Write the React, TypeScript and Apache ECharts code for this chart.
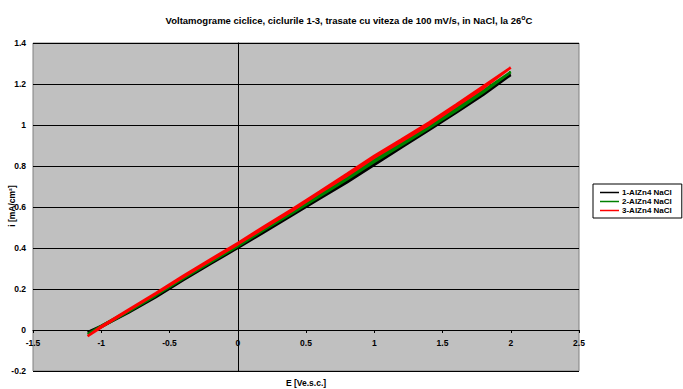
import React, { useEffect, useRef } from "react";
import * as echarts from "echarts";

const seriesNames = ["1-AlZn4 NaCl", "2-AlZn4 NaCl", "3-AlZn4 NaCl"];
const seriesColors = ["#000000", "#008000", "#FF0000"];

// potential values (V vs s.c.e.) for the forward scan
const eForward = [-1.1, -1.0, -0.8, -0.6, -0.4, -0.2, 0, 0.2, 0.4, 0.6, 0.8, 1.0, 1.2, 1.4, 1.6, 1.8, 2.0];
// current density (mA/cm2), forward scan
const iForward1 = [-0.01, 0.02, 0.09, 0.165, 0.25, 0.33, 0.41, 0.49, 0.57, 0.65, 0.73, 0.815, 0.9, 0.985, 1.07, 1.157, 1.244];
const iForward2 = [-0.02, 0.02, 0.095, 0.172, 0.258, 0.338, 0.415, 0.497, 0.578, 0.66, 0.745, 0.83, 0.912, 0.995, 1.08, 1.168, 1.258];
const iForward3 = [-0.03, 0.018, 0.1, 0.18, 0.264, 0.345, 0.424, 0.508, 0.59, 0.675, 0.762, 0.85, 0.93, 1.012, 1.1, 1.19, 1.28];
// reverse scan (2.0 -> -1.1)
const eReverse = [2.0, 1.8, 1.6, 1.4, 1.2, 1.0, 0.8, 0.6, 0.4, 0.2, 0, -0.2, -0.4, -0.6, -0.8, -1.0, -1.1];
const iReverse1 = [1.244, 1.148, 1.06, 0.975, 0.89, 0.805, 0.72, 0.64, 0.56, 0.48, 0.4, 0.322, 0.243, 0.16, 0.085, 0.015, -0.01];
const iReverse2 = [1.258, 1.16, 1.07, 0.985, 0.902, 0.82, 0.735, 0.652, 0.57, 0.49, 0.408, 0.33, 0.25, 0.168, 0.09, 0.014, -0.02];
const iReverse3 = [1.28, 1.18, 1.09, 1.0, 0.92, 0.84, 0.752, 0.668, 0.582, 0.5, 0.418, 0.338, 0.258, 0.176, 0.095, 0.012, -0.03];

const xTicks = { min: -1.5, max: 2.5, interval: 0.5 };
const yTicks = { min: -0.2, max: 1.4, interval: 0.2 };

function loop(fwd: number[], rev: number[]): number[][] {
  const pts: number[][] = [];
  eForward.forEach((e, k) => pts.push([e, fwd[k]]));
  eReverse.forEach((e, k) => pts.push([e, rev[k]]));
  return pts;
}

export default function App() {
  const ref = useRef<HTMLDivElement>(null);
  useEffect(() => {
    if (!ref.current) return;
    const chart = echarts.init(ref.current, null, { renderer: "svg" });
    const data = [
      loop(iForward1, iReverse1),
      loop(iForward2, iReverse2),
      loop(iForward3, iReverse3),
    ];
    const font = "'Liberation Sans', Arial, sans-serif";
    const gridTop = 43;
    const gridBottom = 18;
    const gridHeight = 389 - gridTop - gridBottom;
    // place the x axis line at i = 0 (shift from the bottom edge of the grid)
    const xAxisOffset = -gridHeight * (0 - yTicks.min) / (yTicks.max - yTicks.min);
    chart.setOption({
      animation: false,
      backgroundColor: "#ffffff",
      textStyle: { fontFamily: font },
      title: {
        text: "Voltamograme ciclice, ciclurile 1-3, trasate cu viteza de 100 mV/s, in NaCl, la 26{sup|o}C",
        left: 344,
        textAlign: "center",
        top: 9,
        textStyle: {
          fontSize: 9.5,
          fontWeight: "bold",
          color: "#000",
          fontFamily: font,
          rich: {
            sup: { fontSize: 7, fontWeight: "bold", color: "#000", padding: [0, 0, 5, 0], fontFamily: font },
          },
        },
      },
      grid: {
        left: 33,
        top: gridTop,
        right: 104,
        bottom: gridBottom,
        show: true,
        backgroundColor: "#C0C0C0",
        borderColor: "#808080",
        borderWidth: 1,
        containLabel: false,
      },
      legend: {
        orient: "vertical",
        left: 593,
        top: 184,
        padding: [4, 10, 3, 7],
        itemGap: 0,
        itemWidth: 19,
        itemHeight: 1.5,
        icon: "rect",
        borderColor: "#000",
        borderWidth: 1,
        backgroundColor: "#fff",
        textStyle: { fontSize: 8, fontWeight: "bold", color: "#000", lineHeight: 9, padding: [0, 0, 0, -2] },
        data: seriesNames,
      },
      xAxis: {
        type: "value",
        min: xTicks.min,
        max: xTicks.max,
        interval: xTicks.interval,
        offset: xAxisOffset,
        axisLine: { onZero: false, lineStyle: { color: "#000", width: 1 } },
        axisTick: { show: true, length: 3, lineStyle: { color: "#000" } },
        axisLabel: { fontSize: 8.5, fontWeight: "bold", color: "#000", margin: 8 },
        splitLine: { show: false },
      },
      yAxis: {
        type: "value",
        min: yTicks.min,
        max: yTicks.max,
        interval: yTicks.interval,
        axisLine: { show: true, onZero: true, lineStyle: { color: "#000", width: 1 } },
        axisTick: { show: true, length: 3, lineStyle: { color: "#000" } },
        axisLabel: { fontSize: 8.5, fontWeight: "bold", color: "#000", margin: 7 },
        splitLine: { show: true, lineStyle: { color: "#000", width: 1 } },
      },
      graphic: [
        {
          type: "text",
          x: 12,
          y: 206,
          rotation: Math.PI / 2,
          style: {
            text: "i [mA/cm²]",
            fontSize: 8.5,
            fontWeight: "bold",
            fill: "#000",
            textAlign: "center",
            textVerticalAlign: "middle",
            fontFamily: font,
          },
        },
        {
          type: "text",
          x: 306,
          y: 383,
          style: {
            text: "E [Ve.s.c.]",
            fontSize: 8.5,
            fontWeight: "bold",
            fill: "#000",
            textAlign: "center",
            textVerticalAlign: "middle",
            fontFamily: font,
          },
        },
      ],
      series: seriesNames.map((name, k) => ({
        name,
        type: "line",
        data: data[k],
        showSymbol: false,
        symbol: "none",
        smooth: false,
        color: seriesColors[k],
        lineStyle: { color: seriesColors[k], width: 2.5 },
        z: 2 + k,
      })),
    });
    return () => chart.dispose();
  }, []);
  return <div ref={ref} style={{ width: 683, height: 389, position: "absolute", left: 0, top: 0 }} />;
}
